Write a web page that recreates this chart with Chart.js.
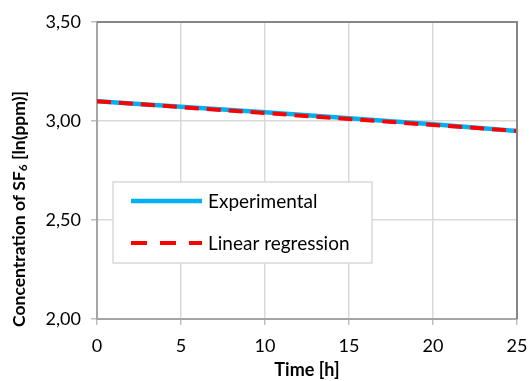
<!DOCTYPE html>
<html><head><meta charset="utf-8">
<script src="https://cdn.jsdelivr.net/npm/chart.js@4/dist/chart.umd.min.js"></script>
<style>html,body{margin:0;padding:0;background:#fff}#wrap{width:529px;height:381px}</style>
</head><body><div id="wrap"><canvas id="c" width="529" height="381"></canvas></div>
<script>
const expTime = [0, 5, 10, 15, 20, 25];
const expValues = [3.10, 3.072, 3.044, 3.014, 2.983, 2.95];
const regTime = [0, 25];
const regValues = [3.10, 2.95];
const xTicks = [0, 5, 10, 15, 20, 25];
const yTicks = [2.00, 2.50, 3.00, 3.50];
const seriesNames = ['Experimental', 'Linear regression'];
const yTitleParts = ['Concentration of SF', '6', ' [ln(ppm)]'];
const FONT = 'Lato, "Open Sans", sans-serif';

const frame = {
  id: 'frame',
  afterDraw(chart) {
    const {ctx, chartArea: a} = chart;
    ctx.save();
    ctx.strokeStyle = '#868686'; ctx.lineWidth = 2;
    ctx.beginPath(); ctx.moveTo(a.left, a.top); ctx.lineTo(a.right, a.top); ctx.lineTo(a.right, a.bottom); ctx.stroke();
    // legend box
    const bx = 113, by = 182, bw = 259, bh = 81;
    ctx.fillStyle = '#fff'; ctx.fillRect(bx, by, bw, bh);
    ctx.strokeStyle = '#d9d9d9'; ctx.lineWidth = 1.5; ctx.strokeRect(bx, by, bw, bh);
    const ds = chart.data.datasets;
    const rows = [201, 243];
    ds.forEach((d, i) => {
      ctx.strokeStyle = d.borderColor; ctx.lineWidth = d.borderWidth;
      ctx.setLineDash(i === 1 ? [16, 13] : []);
      ctx.beginPath(); ctx.moveTo(131, rows[i]); ctx.lineTo(202, rows[i]); ctx.stroke();
      ctx.setLineDash([]);
      ctx.fillStyle = '#000'; ctx.font = '19px ' + FONT; ctx.textBaseline = 'middle';
      ctx.fillText(d.label, 208, rows[i] + 1);
    });
    // y axis title with subscript
    ctx.translate(19, 209);
    ctx.rotate(-Math.PI / 2);
    ctx.fillStyle = '#000'; ctx.textBaseline = 'middle'; ctx.textAlign = 'left';
    const big = 'bold 17.5px ' + FONT, small = 'bold 12px ' + FONT;
    ctx.font = big; const w1 = ctx.measureText(yTitleParts[0]).width, w3 = ctx.measureText(yTitleParts[2]).width;
    ctx.font = small; const w2 = ctx.measureText(yTitleParts[1]).width;
    let x = -(w1 + w2 + w3) / 2;
    ctx.font = big; ctx.fillText(yTitleParts[0], x, 0); x += w1;
    ctx.font = small; ctx.fillText(yTitleParts[1], x, 4); x += w2;
    ctx.font = big; ctx.fillText(yTitleParts[2], x, 0);
    ctx.restore();
  }
};

new Chart(document.getElementById('c'), {
  type: 'scatter',
  data: {
    datasets: [
      { label: seriesNames[0], data: expTime.map((t, i) => ({x: t, y: expValues[i]})), showLine: true,
        borderColor: '#00b0f0', borderWidth: 4.5, pointRadius: 0, fill: false, order: 2 },
      { label: seriesNames[1], data: regTime.map((t, i) => ({x: t, y: regValues[i]})), showLine: true,
        borderColor: '#ff0000', borderWidth: 4, borderDash: [14, 8], pointRadius: 0, fill: false, order: 1 }
    ]
  },
  options: {
    responsive: false, animation: false,
    layout: { padding: { left: 0, right: 12, top: 22, bottom: 0 } },
    plugins: { legend: { display: false }, tooltip: { enabled: false } },
    scales: {
      x: {
        type: 'linear', min: 0, max: 25,
        afterBuildTicks: s => { s.ticks = xTicks.map(v => ({value: v})); },
        afterFit: s => { s.height = 62; s.paddingRight = 0; s.paddingLeft = 0; },
        grid: { color: '#d9d9d9', lineWidth: 1.5, tickLength: 6, tickColor: '#bfbfbf' },
        border: { color: '#a6a6a6', width: 2 },
        ticks: { color: '#000', font: { family: FONT, size: 18 }, padding: 10, maxRotation: 0 },
        title: { display: true, text: 'Time [h]', color: '#000', font: { family: FONT, size: 18, weight: 'bold' }, padding: { top: 0, bottom: 0 } }
      },
      y: {
        min: 2, max: 3.5,
        afterBuildTicks: s => { s.ticks = yTicks.map(v => ({value: v})); },
        afterFit: s => { s.width = 97; s.paddingTop = 0; s.paddingBottom = 0; },
        grid: { color: '#d9d9d9', lineWidth: 1.5, tickLength: 6, tickColor: '#bfbfbf' },
        border: { color: '#a6a6a6', width: 2 },
        ticks: { color: '#000', font: { family: FONT, size: 18 }, padding: 10,
          callback: v => v.toFixed(2).replace('.', ',') },
        title: { display: false }
      }
    }
  },
  plugins: [frame]
});
</script></body></html>
